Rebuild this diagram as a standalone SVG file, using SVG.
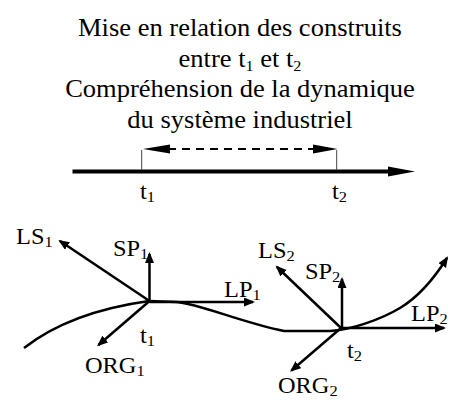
<svg xmlns="http://www.w3.org/2000/svg" width="451" height="400" viewBox="0 0 451 400">
  <style>
    text { font-family: "Liberation Serif", "Times New Roman", serif; fill: #000; }
    .title { font-size: 25.5px; text-anchor: middle; }
    .lbl { font-size: 23px; }
    .sub { font-size: 15.5px; }
    .vec { stroke: #000; stroke-width: 2.5; fill: none; marker-end: url(#head); }
    .tick { stroke: #444; stroke-width: 1; }
  </style>
  <defs>
    <marker id="head" markerUnits="userSpaceOnUse" markerWidth="12" markerHeight="10" refX="9" refY="4.5" orient="auto" viewBox="0 0 12 10">
      <path d="M0,0 L11,4.5 L0,9 z" fill="#000"/>
    </marker>
  </defs>

  <!-- heading -->
  <g id="title" transform="translate(240,0) scale(1.04,1)">
    <text class="title" x="0" y="36">Mise en relation des construits</text>
    <text class="title" x="0" y="67">entre t<tspan class="sub" dy="4">1</tspan><tspan dy="-4"> et t</tspan><tspan class="sub" dy="4">2</tspan></text>
    <text class="title" x="0" y="97.5">Compréhension de la dynamique</text>
    <text class="title" x="0" y="128">du système industriel</text>
  </g>

  <!-- time axis with the t1..t2 interval -->
  <g id="timeline">
    <line x1="72.5" y1="171.5" x2="392" y2="171.5" stroke="#000" stroke-width="4"/>
    <polygon points="388,166.5 415,171.5 388,176.5" fill="#000"/>
    <line class="tick" x1="141.7" y1="150" x2="141.7" y2="170"/>
    <line class="tick" x1="336.7" y1="150" x2="336.7" y2="170"/>
    <line x1="168" y1="149" x2="314" y2="149" stroke="#000" stroke-width="2.2" stroke-dasharray="8 6"/>
    <polygon points="143,149 170,144.5 170,153.5" fill="#000"/>
    <polygon points="337.5,149 313,144.5 313,153.5" fill="#000"/>
    <text class="lbl" transform="translate(140,199) scale(1.06,1)">t<tspan class="sub" dy="3">1</tspan></text>
    <text class="lbl" transform="translate(332,199) scale(1.06,1)">t<tspan class="sub" dy="3">2</tspan></text>
  </g>

  <!-- state at t1 -->
  <g id="state-t1">
    <text class="lbl" transform="translate(16,244) scale(1.06,1)">LS<tspan class="sub" dy="3">1</tspan></text>
    <text class="lbl" transform="translate(113,256) scale(1.06,1)">SP<tspan class="sub" dy="3">1</tspan></text>
    <text class="lbl" transform="translate(224,297) scale(1.06,1)">LP<tspan class="sub" dy="3">1</tspan></text>
    <text class="lbl" transform="translate(140,343) scale(1.06,1)">t<tspan class="sub" dy="3">1</tspan></text>
    <text class="lbl" transform="translate(85,373) scale(1.06,1)">ORG<tspan class="sub" dy="3">1</tspan></text>
  </g>

  <!-- state at t2 -->
  <g id="state-t2">
    <text class="lbl" transform="translate(258,258) scale(1.06,1)">LS<tspan class="sub" dy="3">2</tspan></text>
    <text class="lbl" transform="translate(305,279) scale(1.06,1)">SP<tspan class="sub" dy="3">2</tspan></text>
    <text class="lbl" transform="translate(411,321) scale(1.06,1)">LP<tspan class="sub" dy="3">2</tspan></text>
    <text class="lbl" transform="translate(347,358) scale(1.06,1)">t<tspan class="sub" dy="3">2</tspan></text>
    <text class="lbl" transform="translate(278,393) scale(1.06,1)">ORG<tspan class="sub" dy="3">2</tspan></text>
  </g>

  <!-- trajectory and construct vectors -->
  <g id="connectors">
    <path class="vec" d="M24,348 Q70,312 149,301 L177,302 C200,304 240,322 284,331 L330,331 C350,330 380,320 400,308 C415,299 430,285 447,258"/>
    <line class="vec" x1="149.5" y1="301" x2="149.5" y2="254"/>
    <line class="vec" x1="149.5" y1="301" x2="60" y2="241"/>
    <line class="vec" x1="149.5" y1="302" x2="253" y2="302"/>
    <line class="vec" x1="149.5" y1="301" x2="98.5" y2="345"/>
    <line class="vec" x1="342" y1="328" x2="342" y2="279"/>
    <line class="vec" x1="341" y1="328" x2="277" y2="267"/>
    <line class="vec" x1="341" y1="328" x2="444" y2="328"/>
    <line class="vec" x1="341" y1="328" x2="291.5" y2="370.5"/>
  </g>
</svg>
